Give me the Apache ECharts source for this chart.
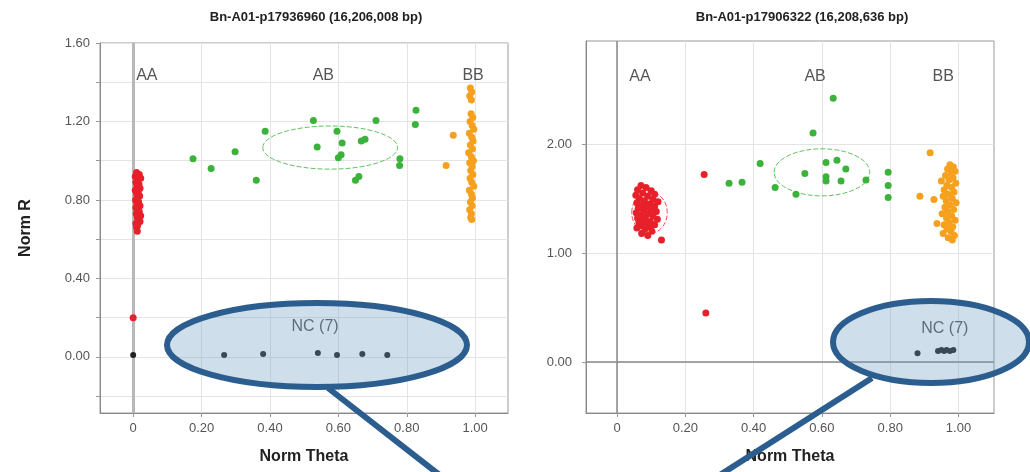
<!DOCTYPE html>
<html>
<head>
<meta charset="utf-8">
<script src="https://cdn.jsdelivr.net/npm/echarts@6/dist/echarts.min.js"></script>
<style>
  html, body { margin: 0; padding: 0; background: #fff; }
  #main { width: 1030px; height: 472px; }
</style>
</head>
<body>
<div id="main"></div>
<script>
// left plot: Bn-A01-p17936960
var leftTitle = 'Bn-A01-p17936960 (16,206,008 bp)'
var leftAA = [
  [0.010, 0.94], [0.018, 0.93], [0.006, 0.92], [0.022, 0.91], [0.013, 0.90], [0.008, 0.89],
  [0.017, 0.88], [0.011, 0.87], [0.020, 0.86], [0.006, 0.85], [0.015, 0.84], [0.010, 0.83],
  [0.019, 0.82], [0.012, 0.81], [0.007, 0.80], [0.016, 0.79], [0.011, 0.78], [0.020, 0.77],
  [0.008, 0.76], [0.014, 0.75], [0.018, 0.74], [0.009, 0.73], [0.022, 0.72], [0.012, 0.71],
  [0.016, 0.70], [0.020, 0.69], [0.008, 0.68], [0.013, 0.67], [0.010, 0.66], [0.012, 0.64],
  [0.000, 0.20]
]
var leftAB = [
  [0.175, 1.01], [0.228, 0.96], [0.298, 1.046], [0.360, 0.90], [0.386, 1.15], [0.527, 1.205],
  [0.538, 1.07], [0.596, 1.15], [0.611, 1.09], [0.600, 1.015], [0.608, 1.03], [0.650, 0.90],
  [0.660, 0.92], [0.667, 1.10], [0.678, 1.11], [0.710, 1.205], [0.780, 1.01], [0.779, 0.975],
  [0.827, 1.257], [0.825, 1.185]
]
var leftBB = [
  [0.936, 1.13], [0.915, 0.975],
  [0.986, 1.37], [0.990, 1.35], [0.984, 1.33], [0.989, 1.31],
  [0.988, 1.24], [0.993, 1.22], [0.985, 1.20], [0.991, 1.18], [0.996, 1.16], [0.983, 1.14],
  [0.990, 1.12], [0.994, 1.10], [0.986, 1.08], [0.992, 1.06], [0.981, 1.04], [0.989, 1.02],
  [0.995, 1.00], [0.984, 0.99], [0.991, 0.97], [0.987, 0.95], [0.993, 0.93], [0.985, 0.91],
  [0.990, 0.89], [0.996, 0.87], [0.983, 0.85], [0.989, 0.83], [0.992, 0.81], [0.986, 0.79],
  [0.991, 0.77], [0.984, 0.75], [0.989, 0.73], [0.987, 0.71], [0.990, 0.70]
]
var leftNC = [
  [0.000, 0.01], [0.266, 0.01], [0.380, 0.015], [0.540, 0.02], [0.596, 0.01], [0.670, 0.015], [0.743, 0.01]
]
// cluster ellipses: [centre theta, centre R, radius theta, radius R]
var leftEllipses = [[0.576, 1.067, 0.197, 0.110]]

// right plot: Bn-A01-p17906322
var rightTitle = 'Bn-A01-p17906322 (16,208,636 bp)'
var rightAA = [
  [0.070, 1.62], [0.085, 1.60], [0.060, 1.58], [0.100, 1.57], [0.075, 1.55], [0.110, 1.54],
  [0.055, 1.53], [0.090, 1.52], [0.065, 1.50], [0.105, 1.49], [0.080, 1.48], [0.120, 1.47],
  [0.058, 1.46], [0.095, 1.45], [0.072, 1.44], [0.110, 1.43], [0.086, 1.42], [0.062, 1.41],
  [0.100, 1.40], [0.078, 1.39], [0.115, 1.38], [0.056, 1.37], [0.092, 1.36], [0.068, 1.35],
  [0.105, 1.34], [0.083, 1.33], [0.060, 1.32], [0.118, 1.31], [0.075, 1.30], [0.097, 1.29],
  [0.064, 1.28], [0.088, 1.27], [0.110, 1.26], [0.070, 1.25], [0.095, 1.24], [0.058, 1.23],
  [0.082, 1.22], [0.102, 1.20], [0.072, 1.18], [0.090, 1.16], [0.130, 1.12],
  [0.255, 1.72], [0.260, 0.45]
]
var rightAB = [
  [0.633, 2.42], [0.574, 2.10], [0.419, 1.82], [0.328, 1.64], [0.366, 1.65], [0.463, 1.60],
  [0.524, 1.54], [0.550, 1.73], [0.612, 1.83], [0.644, 1.85], [0.670, 1.77], [0.612, 1.70],
  [0.612, 1.66], [0.656, 1.66], [0.729, 1.67], [0.794, 1.74], [0.794, 1.62], [0.794, 1.51]
]
var rightBB = [
  [0.917, 1.92], [0.887, 1.52], [0.928, 1.49], [0.937, 1.27],
  [0.975, 1.81], [0.985, 1.79], [0.968, 1.77], [0.990, 1.75], [0.978, 1.73], [0.962, 1.71],
  [0.984, 1.69], [0.972, 1.67], [0.950, 1.66], [0.992, 1.64], [0.966, 1.62], [0.980, 1.60],
  [0.958, 1.58], [0.987, 1.56], [0.970, 1.54], [0.955, 1.52], [0.982, 1.50], [0.964, 1.48],
  [0.993, 1.46], [0.975, 1.44], [0.960, 1.42], [0.986, 1.40], [0.968, 1.38], [0.952, 1.36],
  [0.980, 1.34], [0.965, 1.32], [0.990, 1.30], [0.972, 1.28], [0.958, 1.26], [0.983, 1.24],
  [0.966, 1.22], [0.978, 1.20], [0.955, 1.18], [0.988, 1.16], [0.970, 1.14], [0.982, 1.12]
]
var rightNC = [
  [0.880, 0.08], [0.940, 0.10], [0.950, 0.11], [0.958, 0.10], [0.965, 0.11], [0.975, 0.10], [0.985, 0.11]
]
var rightEllipses = [[0.600, 1.74, 0.140, 0.216]]
var rightRedEllipses = [[0.095, 1.37, 0.052, 0.19]]

var thetaTicks = [0, 0.2, 0.4, 0.6, 0.8, 1.0]
var leftRTicks = [-0.2, 0, 0.2, 0.4, 0.6, 0.8, 1.0, 1.2, 1.4, 1.6]
var leftRLabels = [0, 0.4, 0.8, 1.2, 1.6]
var rightRTicks = [0, 1, 2]

var FONT = 'Liberation Sans'
var RED = '#e8202a'
var GREEN = '#3bb33b'
var ORANGE = '#f6a11e'
var BLACK = '#222'

function thetaFmt(v) {
  return v === 0 ? '0' : v.toFixed(2)
}

function makeX(gridIndex, min, max) {
  return {
    type: 'value',
    gridIndex: gridIndex,
    min: min,
    max: max,
    name: 'Norm Theta',
    nameLocation: 'middle',
    nameGap: 36,
    nameTextStyle: { fontFamily: FONT, fontSize: 16, fontWeight: 'bold', color: '#222' },
    axisLine: { show: true, onZero: false, lineStyle: { color: '#888' } },
    axisTick: { show: true, customValues: thetaTicks, length: 4, lineStyle: { color: '#999' } },
    axisLabel: { customValues: thetaTicks, formatter: thetaFmt, fontFamily: FONT, fontSize: 13, color: '#555', margin: 9 },
    splitLine: { show: true, lineStyle: { color: '#e4e4e4' } }
  }
}

function scatter(name, data, color, xi, size) {
  return {
    name: name,
    type: 'scatter',
    xAxisIndex: xi,
    yAxisIndex: xi,
    data: data,
    symbolSize: size || 7,
    itemStyle: { color: color, opacity: 1 },
    z: 5
  }
}

function ellipseSeries(data, color, xi) {
  return {
    type: 'custom',
    xAxisIndex: xi,
    yAxisIndex: xi,
    data: data,
    silent: true,
    z: 2,
    renderItem: function(params, api) {
      var c = api.coord([api.value(0), api.value(1)])
      var s = api.size([api.value(2), api.value(3)])
      return {
        type: 'ellipse',
        shape: { cx: c[0], cy: c[1], rx: s[0], ry: s[1] },
        style: { fill: 'none', stroke: color, lineWidth: 1, lineDash: [5, 2], opacity: 0.8 }
      }
    }
  }
}

function textSeries(items, xi) {
  return {
    type: 'scatter',
    xAxisIndex: xi,
    yAxisIndex: xi,
    symbolSize: 0,
    silent: true,
    data: items,
    label: {
      show: true,
      position: 'inside',
      formatter: '{b}',
      fontFamily: FONT,
      fontSize: 16,
      color: '#2a2a2a'
    },
    z: 6
  }
}

var chart = echarts.init(document.getElementById('main'), null, { renderer: 'canvas' })

var option = {
  animation: false,
  backgroundColor: '#fff',
  grid: [
    { left: 100, top: 43, width: 408, height: 370, show: true, borderColor: '#999', borderWidth: 1 },
    { left: 586, top: 41, width: 408, height: 372, show: true, borderColor: '#999', borderWidth: 1 }
  ],
  xAxis: [makeX(0, -0.097, 1.096), makeX(1, -0.091, 1.104)],
  yAxis: [
    {
      type: 'value',
      gridIndex: 0,
      min: -0.286,
      max: 1.6,
      name: 'Norm R',
      nameLocation: 'middle',
      nameGap: 66,
      nameTextStyle: { fontFamily: FONT, fontSize: 16, fontWeight: 'bold', color: '#222' },
      axisLine: { show: true, onZero: false, lineStyle: { color: '#888' } },
      axisTick: { show: true, customValues: leftRTicks, length: 4, lineStyle: { color: '#999' } },
      axisLabel: { customValues: leftRLabels, formatter: function(v) { return v.toFixed(2) }, fontFamily: FONT, fontSize: 13, color: '#555', margin: 10 },
      splitLine: { show: true, lineStyle: { color: '#e4e4e4' } }
    },
    {
      type: 'value',
      gridIndex: 1,
      min: -0.468,
      max: 2.945,
      axisLine: { show: true, onZero: false, lineStyle: { color: '#888' } },
      axisTick: { show: true, customValues: rightRTicks, length: 4, lineStyle: { color: '#999' } },
      axisLabel: { customValues: rightRTicks, formatter: function(v) { return v.toFixed(2) }, fontFamily: FONT, fontSize: 13, color: '#555', margin: 14 },
      splitLine: { show: true, lineStyle: { color: '#e4e4e4' } }
    }
  ],
  series: [
    // zero lines, kept under the points
    {
      type: 'line', xAxisIndex: 0, yAxisIndex: 0, data: [], silent: true, z: 1,
      markLine: { silent: true, symbol: 'none', label: { show: false }, z: 1,
        lineStyle: { color: '#b8b8b8', width: 3, type: 'solid' }, data: [{ xAxis: 0 }] }
    },
    {
      type: 'line', xAxisIndex: 1, yAxisIndex: 1, data: [], silent: true, z: 1,
      markLine: { silent: true, symbol: 'none', label: { show: false }, z: 1,
        lineStyle: { color: '#888', width: 1.5, type: 'solid' }, data: [{ xAxis: 0 }, { yAxis: 0 }] }
    },
    ellipseSeries(leftEllipses, GREEN, 0),
    ellipseSeries(rightEllipses, GREEN, 1),
    ellipseSeries(rightRedEllipses, RED, 1),
    scatter('AA', leftAA, RED, 0),
    scatter('AB', leftAB, GREEN, 0),
    scatter('BB', leftBB, ORANGE, 0),
    scatter('NC', leftNC, BLACK, 0, 6),
    scatter('AA', rightAA, RED, 1),
    scatter('AB', rightAB, GREEN, 1),
    scatter('BB', rightBB, ORANGE, 1),
    scatter('NC', rightNC, BLACK, 1, 6),
    textSeries([
      { name: 'AA', value: [0.04, 1.435] },
      { name: 'AB', value: [0.556, 1.435] },
      { name: 'BB', value: [0.994, 1.435] },
      { name: 'NC (7)', value: [0.532, 0.153] }
    ], 0),
    textSeries([
      { name: 'AA', value: [0.067, 2.62] },
      { name: 'AB', value: [0.58, 2.62] },
      { name: 'BB', value: [0.955, 2.62] },
      { name: 'NC (7)', value: [0.96, 0.31] }
    ], 1)
  ],
  graphic: [
    { type: 'text', x: 316, y: 11, style: { text: leftTitle, font: 'bold 13px "Liberation Sans"', fill: '#222', textAlign: 'center' } },
    { type: 'text', x: 802, y: 11, style: { text: rightTitle, font: 'bold 13px "Liberation Sans"', fill: '#222', textAlign: 'center' } },
    // callouts
    { type: 'line', z: 10, shape: { x1: 328, y1: 388, x2: 446, y2: 480 }, style: { stroke: '#2b5d8f', lineWidth: 6 } },
    { type: 'ellipse', z: 11, shape: { cx: 317, cy: 345, rx: 150, ry: 42 }, style: { fill: 'rgba(110,155,195,0.33)', stroke: '#2b5d8f', lineWidth: 6 } },
    { type: 'line', z: 10, shape: { x1: 872, y1: 378, x2: 712, y2: 480 }, style: { stroke: '#2b5d8f', lineWidth: 6 } },
    { type: 'ellipse', z: 11, shape: { cx: 931, cy: 342, rx: 98, ry: 41 }, style: { fill: 'rgba(110,155,195,0.33)', stroke: '#2b5d8f', lineWidth: 6 } }
  ]
}

chart.setOption(option)
</script>
</body>
</html>
